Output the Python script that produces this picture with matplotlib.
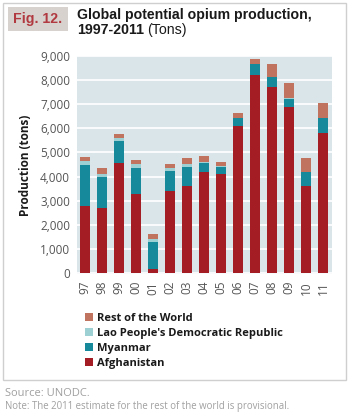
import matplotlib
matplotlib.use("Agg")
import matplotlib.pyplot as plt
from matplotlib.patches import Rectangle
import numpy as np

years = ["97", "98", "99", "00", "01", "02", "03", "04", "05", "06", "07", "08", "09", "10", "11"]
afghanistan = [2800, 2690, 4560, 3280, 185, 3400, 3600, 4200, 4100, 6100, 8200, 7700, 6900, 3600, 5800]
myanmar = [1680, 1300, 900, 1090, 1100, 830, 810, 370, 310, 320, 460, 410, 330, 580, 610]
lao = [150, 120, 120, 170, 130, 110, 120, 45, 15, 20, 10, 10, 10, 20, 25]
rest = [190, 230, 200, 160, 220, 170, 250, 240, 200, 180, 200, 550, 630, 570, 600]

series = [
    ("Afghanistan", afghanistan, "#a41c24"),
    ("Myanmar", myanmar, "#16899a"),
    ("Lao People's Democratic Republic", lao, "#9dd0d2"),
    ("Rest of the World", rest, "#c0735f"),
]

fig = plt.figure(figsize=(3.5, 4.15), dpi=100)
fig.patch.set_facecolor("white")

# outer frame + "Fig." tag
fig.add_artist(Rectangle((3 / 350, 1 - 380 / 415), 343 / 350, 377 / 415,
                         transform=fig.transFigure, fill=False,
                         edgecolor="#cfcfcf", linewidth=1.0))
fig.add_artist(Rectangle((8 / 350, 1 - 31 / 415), 60 / 350, 24 / 415,
                         transform=fig.transFigure, facecolor="#d8d2cf",
                         edgecolor="none"))
fig.text(13 / 350, 1 - 19 / 415, "Fig. 12.", color="#b13a40", fontsize=10.2,
         fontweight="bold", family="Liberation Sans", va="center", ha="left")
fig.text(77 / 350, 1 - 15 / 415, "Global potential opium production,",
         fontsize=10.2, fontweight="bold", family="Liberation Sans",
         va="center", ha="left", color="#1a1a1a")
t2 = fig.text(77 / 350, 1 - 30 / 415, "1997-2011", fontsize=10.2,
              fontweight="bold", family="Liberation Sans", va="center",
              ha="left", color="#1a1a1a")
# put "(Tons)" right after the bold year range
r = fig.canvas.get_renderer()
bb = t2.get_window_extent(renderer=r)
fig.text((bb.x1 + 3) / 350, 1 - 30 / 415, "(Tons)", fontsize=10.2,
         family="Liberation Sans", va="center", ha="left", color="#1a1a1a")

ax = fig.add_axes([77 / 350, 1 - 274 / 415, 255 / 350, 218 / 415])
ax.set_facecolor("#d9e5e9")

x = np.arange(len(years))
bottom = np.zeros(len(years))
handles = []
for name, vals, col in series:
    h = ax.bar(x, vals, bottom=bottom, width=0.6, color=col, label=name, zorder=3)
    handles.append(h)
    bottom += np.array(vals)

ax.set_xlim(-0.47, 14.53)
ax.set_ylim(-40, 9000)
ax.set_yticks(range(0, 9001, 1000))
ax.set_yticklabels([f"{v:,}" for v in range(0, 9001, 1000)])
ax.set_xticks(x)
ax.set_xticklabels(years, rotation=90)
ax.grid(axis="y", color="white", linewidth=1.2, zorder=1)
for s in ax.spines.values():
    s.set_visible(False)
ax.tick_params(length=0, labelsize=8.5, labelcolor="#555555", pad=5)
for lab in ax.get_xticklabels() + ax.get_yticklabels():
    lab.set_family("Open Sans")
ax.set_ylabel("Production (tons)", fontsize=8.5, fontweight="bold",
              family="Open Sans", color="#1a1a1a", labelpad=6)

leg = fig.legend(handles[::-1], [s[0] for s in series][::-1],
                 loc="upper left", bbox_to_anchor=(79 / 350, 1 - 307 / 415),
                 frameon=False, handlelength=0.8, handleheight=0.8,
                 handletextpad=0.3, labelspacing=0.35, borderpad=0,
                 prop={"family": "Open Sans", "weight": "bold", "size": 8})
for t in leg.get_texts():
    t.set_color("#1a1a1a")

fig.text(5 / 350, 1 - 393 / 415, "Source: UNODC.", fontsize=8,
         family="Open Sans", color="#a0a0a0", va="center")
fig.text(5 / 350, 1 - 406 / 415,
         "Note: The 2011 estimate for the rest of the world is provisional.",
         fontsize=6.9, family="Open Sans", color="#a0a0a0", va="center")

fig.savefig("out.png", dpi=100)
